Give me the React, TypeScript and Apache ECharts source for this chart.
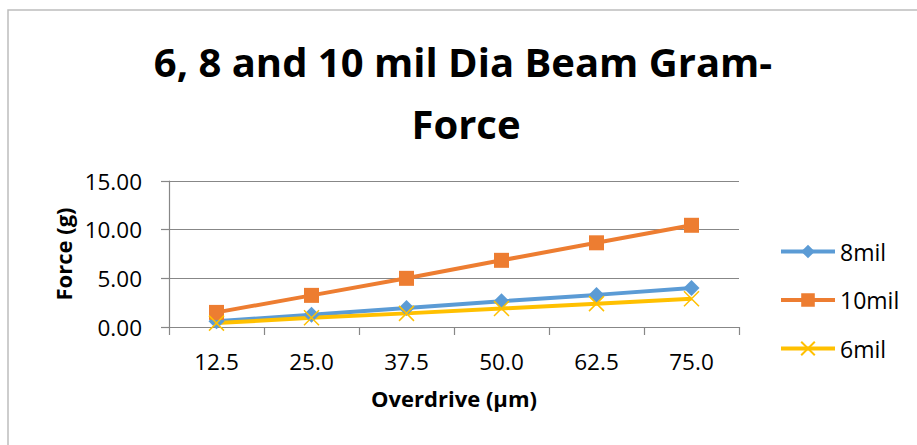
import React, { useEffect, useRef } from "react";
import * as echarts from "echarts";

const categories = ["12.5", "25.0", "37.5", "50.0", "62.5", "75.0"];
const mil8 = [0.6, 1.25, 1.95, 2.65, 3.3, 4.0];
const mil10 = [1.5, 3.25, 5.0, 6.85, 8.65, 10.45];
const mil6 = [0.4, 0.95, 1.4, 1.9, 2.4, 2.9];
const yTicks = { min: 0, max: 15, interval: 5 };
const titleLines = ["6, 8 and 10 mil Dia Beam Gram-", "Force"];

const FONT = "'Open Sans', 'Noto Sans', sans-serif";
const GRID = "#878787";

export default function App() {
  const ref = useRef<HTMLDivElement>(null);
  useEffect(() => {
    document.body.style.margin = "0";
    if (!ref.current) return;
    const chart = echarts.init(ref.current, undefined, { renderer: "svg" });
    const xSymbol = "path://M0,0L10,10M10,0L0,10";
    chart.setOption({
      animation: false,
      backgroundColor: "#fff",
      textStyle: { fontFamily: FONT },
      graphic: [
        {
          type: "rect",
          shape: { x: 8, y: 10, width: 1200, height: 1000 },
          style: { fill: "none", stroke: "#bdbdbd", lineWidth: 1.5 },
          silent: true,
        },
        {
          type: "text",
          x: 463,
          y: 61,
          style: {
            text: titleLines[0],
            font: `bold 40px ${FONT}`,
            fill: "#000",
            align: "center",
            verticalAlign: "middle",
          },
        },
        {
          type: "text",
          x: 466,
          y: 123,
          style: {
            text: titleLines[1],
            font: `bold 40px ${FONT}`,
            fill: "#000",
            align: "center",
            verticalAlign: "middle",
          },
        },
      ],
      grid: { left: 169, right: 178, top: 181, bottom: 118, containLabel: false },
      legend: {
        orient: "vertical",
        left: 779,
        top: 240,
        padding: 0,
        itemWidth: 54,
        itemHeight: 17,
        itemGap: 25.5,
        itemTextGap: 4,
        lineStyle: { width: 4 },
        textStyle: { fontSize: 23, lineHeight: 23, color: "#000", fontFamily: FONT },
        data: ["8mil", "10mil", "6mil"],
      },
      xAxis: {
        type: "category",
        data: categories,
        boundaryGap: true,
        name: "Overdrive (µm)",
        nameLocation: "middle",
        nameGap: 60,
        nameTextStyle: { fontSize: 22, fontWeight: "bold", color: "#000", fontFamily: FONT },
        axisLine: { lineStyle: { color: GRID, width: 1.2 } },
        axisTick: { show: true, alignWithLabel: false, length: 8, lineStyle: { color: GRID, width: 1.2 } },
        axisLabel: { fontSize: 22.5, color: "#000", margin: 23, fontFamily: FONT },
      },
      yAxis: {
        type: "value",
        min: yTicks.min,
        max: yTicks.max,
        interval: yTicks.interval,
        name: "Force (g)",
        nameLocation: "middle",
        nameGap: 95,
        nameRotate: 90,
        nameTextStyle: { fontSize: 22, fontWeight: "bold", color: "#000", fontFamily: FONT },
        axisLine: { show: true, lineStyle: { color: GRID, width: 1.2 } },
        axisTick: { show: true, length: 8, lineStyle: { color: GRID, width: 1.2 } },
        splitLine: { show: true, lineStyle: { color: GRID, width: 1.2 } },
        axisLabel: {
          fontSize: 22.5,
          color: "#000",
          margin: 27,
          fontFamily: FONT,
          formatter: (v: number) => v.toFixed(2),
        },
      },
      series: [
        {
          name: "8mil",
          type: "line",
          data: mil8,
          symbol: "diamond",
          symbolSize: 16,
          lineStyle: { color: "#5B9BD5", width: 4 },
          itemStyle: { color: "#5B9BD5" },
        },
        {
          name: "10mil",
          type: "line",
          data: mil10,
          symbol: "rect",
          symbolSize: 15,
          lineStyle: { color: "#ED7D31", width: 4 },
          itemStyle: { color: "#ED7D31" },
        },
        {
          name: "6mil",
          type: "line",
          data: mil6,
          symbol: xSymbol,
          symbolSize: 15,
          lineStyle: { color: "#FFC000", width: 4 },
          itemStyle: { color: "#FFC000", borderColor: "#FFC000", borderWidth: 1.5 },
        },
      ],
    });
    return () => chart.dispose();
  }, []);
  return <div ref={ref} style={{ width: 917, height: 445 }} />;
}
